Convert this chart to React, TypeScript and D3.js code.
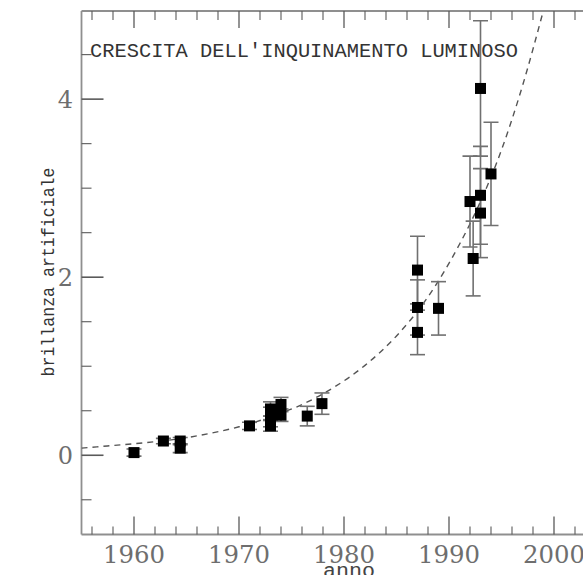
import React from "react";
import * as d3 from "d3";

const years = [1960.0, 1962.8, 1964.4, 1964.4, 1971.0, 1973.0, 1973.0, 1973.0, 1973.0, 1974.0, 1974.0, 1976.5, 1977.9, 1987.0, 1987.0, 1987.0, 1989.0, 1992.0, 1992.3, 1993.0, 1993.0, 1993.0, 1994.0];
const values = [0.03, 0.16, 0.16, 0.08, 0.33, 0.33, 0.38, 0.47, 0.52, 0.57, 0.45, 0.44, 0.58, 2.08, 1.66, 1.38, 1.65, 2.85, 2.21, 4.12, 2.92, 2.72, 3.16];
const errors = [0.04, 0.03, 0.04, 0.05, 0.04, 0.06, 0.06, 0.07, 0.08, 0.08, 0.07, 0.11, 0.12, 0.38, 0.31, 0.25, 0.3, 0.51, 0.42, 0.76, 0.55, 0.5, 0.58];

const fitYears = [1955, 1958, 1961, 1964, 1967, 1970, 1973, 1976, 1979, 1982, 1985, 1988, 1991, 1993, 1995, 1997, 1999, 2000];
const fitValues = [0.08, 0.11, 0.14, 0.18, 0.24, 0.32, 0.43, 0.57, 0.76, 1.01, 1.34, 1.78, 2.37, 2.85, 3.43, 4.15, 5.0, 5.45];

const xMajor = [1960, 1970, 1980, 1990, 2000];
const xMinor = [1956, 1958, 1962, 1964, 1966, 1968, 1972, 1974, 1976, 1978, 1982, 1984, 1986, 1988, 1992, 1994, 1996, 1998, 2002, 2004];
const yMajor = [0, 2, 4];
const yMinor = [-0.5, 0.5, 1, 1.5, 2.5, 3, 3.5, 4.5];

const title = "CRESCITA DELL'INQUINAMENTO LUMINOSO";
const xTitle = "anno";
const yTitle = "brillanza artificiale";

export default function App() {
  const W = 583, H = 575;
  const x = d3.scaleLinear().domain([1955, 2005]).range([81.5, 606.5]);
  const y = d3.scaleLinear().domain([-0.89, 4.99]).range([534.5, 11]);
  const left = x(1955), bottom = y(-0.89), top = y(4.99);
  const line = d3.line<number>().x((_, i) => x(fitYears[i])).y((d) => y(d)).curve(d3.curveMonotoneX);
  const axisCol = "#8f8f8f";
  const majCol = "#5a5a5a";
  const labCol = "#6e6e6e";
  const sq = 11;
  const cap = 7.5;
  return (
    <svg width={W} height={H} style={{ position: "absolute", left: 0, top: 0, background: "#fff" }}>
      <defs>
        <clipPath id="plot">
          <rect x={left} y={top} width={W - left} height={bottom - top} />
        </clipPath>
      </defs>
      {/* axes frame */}
      <line x1={left} x2={W} y1={bottom} y2={bottom} stroke={axisCol} strokeWidth={1.8} />
      <line x1={left} x2={W} y1={top} y2={top} stroke={axisCol} strokeWidth={1.8} />
      <line x1={left} x2={left} y1={top} y2={bottom} stroke={axisCol} strokeWidth={1.8} />
      {/* x ticks */}
      {xMajor.map((t) => (
        <g key={"xm" + t}>
          <line x1={x(t)} x2={x(t)} y1={bottom} y2={bottom - 18} stroke={majCol} strokeWidth={1.3} />
          <line x1={x(t)} x2={x(t)} y1={top} y2={top + 17} stroke={majCol} strokeWidth={1.3} />
          <text x={x(t)} y={563} textAnchor="middle" fontFamily="DejaVu Serif" fontSize={24} fill={labCol} textLength={62} lengthAdjust="spacingAndGlyphs">{t}</text>
        </g>
      ))}
      {xMinor.map((t) => (
        <g key={"xn" + t}>
          <line x1={x(t)} x2={x(t)} y1={bottom} y2={bottom - 8} stroke={majCol} strokeWidth={1.1} />
          <line x1={x(t)} x2={x(t)} y1={top} y2={top + 9} stroke={majCol} strokeWidth={1.1} />
        </g>
      ))}
      {/* y ticks */}
      {yMajor.map((t) => (
        <g key={"ym" + t}>
          <line x1={left} x2={left + 22} y1={y(t)} y2={y(t)} stroke={majCol} strokeWidth={1.6} />
          <text x={73} y={y(t)} dy="0.36em" textAnchor="end" fontFamily="DejaVu Serif" fontSize={24} fill={labCol}>{t}</text>
        </g>
      ))}
      {yMinor.map((t) => (
        <line key={"yn" + t} x1={left} x2={left + 10} y1={y(t)} y2={y(t)} stroke={majCol} strokeWidth={1.1} />
      ))}
      {/* title */}
      <text x={90} y={57} fontFamily="Liberation Mono" fontSize={21} fill="#333" textLength={428} lengthAdjust="spacingAndGlyphs">{title}</text>
      {/* axis titles */}
      <text x={349} y={577} textAnchor="middle" fontFamily="Liberation Mono" fontSize={20} fill="#444" textLength={52} lengthAdjust="spacingAndGlyphs">{xTitle}</text>
      <text transform="translate(47,272) rotate(-90)" textAnchor="middle" dy="0.35em" fontFamily="Liberation Mono" fontSize={19} fill="#333" textLength={209} lengthAdjust="spacingAndGlyphs">{yTitle}</text>
      <g clipPath="url(#plot)">
        {/* fit curve */}
        <path d={line(fitValues) || ""} fill="none" stroke="#555" strokeWidth={1.4} strokeDasharray="6,5" />
        {/* error bars */}
        {years.map((yr, i) => {
          const cx = x(yr);
          const y1 = y(values[i] + errors[i]);
          const y2 = y(values[i] - errors[i]);
          return (
            <g key={"e" + i} stroke="#707070" strokeWidth={1.6}>
              <line x1={cx} x2={cx} y1={y1} y2={y2} />
              <line x1={cx - cap} x2={cx + cap} y1={y1} y2={y1} />
              <line x1={cx - cap} x2={cx + cap} y1={y2} y2={y2} />
            </g>
          );
        })}
        {/* points */}
        {years.map((yr, i) => (
          <rect key={"p" + i} x={x(yr) - sq / 2} y={y(values[i]) - sq / 2} width={sq} height={sq} fill="#000" />
        ))}
      </g>
    </svg>
  );
}
